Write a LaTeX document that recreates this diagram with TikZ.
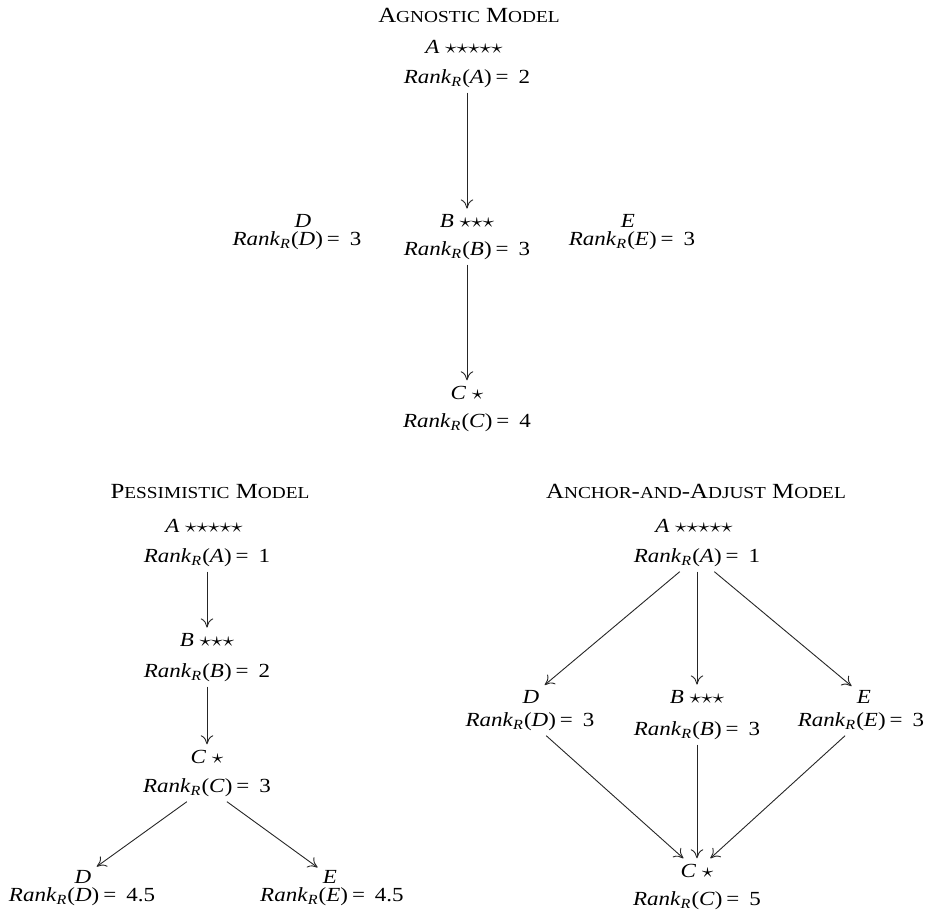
\documentclass[tikz,border=0pt]{standalone}
\usepackage{fontspec}
\setmainfont{Liberation Serif}[FakeStretch=1.15]
\usepackage{tikz}
\usetikzlibrary{arrows.meta}

% small caps faked with a smaller size
\newcommand{\scap}[1]{{\fontsize{8.4pt}{10pt}\selectfont #1}}
\newcommand{\rankr}[2]{\textit{Rank}\textsubscript{\textit{R}}(\textit{#1})\hspace{0.2em}=\hspace{0.5em}#2}
\newcommand{\strs}[1]{\scalebox{1.15}[1]{$#1$}}

\begin{document}
\begin{tikzpicture}[
    x=0.5pt, y=-0.5pt,
    lbl/.style={anchor=base, inner sep=2.5pt, font=\fontsize{10pt}{12pt}\selectfont},
    title/.style={anchor=base, inner sep=2pt, font=\fontsize{10.8pt}{12pt}\selectfont},
    arrow/.style={-{To[length=1.6mm, width=2.2mm]}, line width=0.45pt, draw=black!85}
]
\useasboundingbox (0,0) rectangle (933,917);

% agnostic model
\node[title] (agT) at (469,22) {A\scap{GNOSTIC} M\scap{ODEL}};
\node[lbl] (agA) at (464,53) {\textit{A} \strs{{\star}{\star}{\star}{\star}{\star}}};
\node[lbl] (agAr) at (467,83) {\rankr{A}{2}};
\node[lbl] (agB) at (467,227) {\textit{B} \strs{{\star}{\star}{\star}}};
\node[lbl] (agBr) at (467,255) {\rankr{B}{3}};
\node[lbl] (agD) at (303,227) {\textit{D}};
\node[lbl] (agDr) at (297,245) {\rankr{D}{3}};
\node[lbl] (agE) at (628,227) {\textit{E}};
\node[lbl] (agEr) at (632,245) {\rankr{E}{3}};
\node[lbl] (agC) at (467,399) {\textit{C} \strs{\star}};
\node[lbl] (agCr) at (467,427) {\rankr{C}{4}};

\draw[arrow] (agAr) -- (agB);
\draw[arrow] (agBr) -- (agC);

% pessimistic model
\node[title] (peT) at (210,498) {P\scap{ESSIMISTIC} M\scap{ODEL}};
\node[lbl] (peA) at (204,532) {\textit{A} \strs{{\star}{\star}{\star}{\star}{\star}}};
\node[lbl] (peAr) at (207,562) {\rankr{A}{1}};
\node[lbl] (peB) at (207,646) {\textit{B} \strs{{\star}{\star}{\star}}};
\node[lbl] (peBr) at (207,677) {\rankr{B}{2}};
\node[lbl] (peC) at (207,763) {\textit{C} \strs{\star}};
\node[lbl] (peCr) at (207,792) {\rankr{C}{3}};
\node[lbl] (peD) at (83,883) {\textit{D}};
\node[lbl] (peDr) at (82,901) {\rankr{D}{4.5}};
\node[lbl] (peE) at (330,883) {\textit{E}};
\node[lbl] (peEr) at (332,901) {\rankr{E}{4.5}};

\draw[arrow] (peAr) -- (peB);
\draw[arrow] (peBr) -- (peC);
\draw[arrow] (peCr) -- (peD);
\draw[arrow] (peCr) -- (peE);

% anchor-and-adjust model
\node[title] (anT) at (696,498) {A\scap{NCHOR}-\scap{AND}-A\scap{DJUST} M\scap{ODEL}};
\node[lbl] (anA) at (694,532) {\textit{A} \strs{{\star}{\star}{\star}{\star}{\star}}};
\node[lbl] (anAr) at (697,562) {\rankr{A}{1}};
\node[lbl] (anD) at (531,703) {\textit{D}};
\node[lbl] (anDr) at (530,726) {\rankr{D}{3}};
\node[lbl] (anB) at (697,703) {\textit{B} \strs{{\star}{\star}{\star}}};
\node[lbl] (anBr) at (697,735) {\rankr{B}{3}};
\node[lbl] (anE) at (864,703) {\textit{E}};
\node[lbl] (anEr) at (861,726) {\rankr{E}{3}};
\node[lbl] (anC) at (697,877) {\textit{C} \strs{\star}};
\node[lbl] (anCr) at (697,905) {\rankr{C}{5}};

\draw[arrow] (anAr) -- (anD);
\draw[arrow] (anAr) -- (anB);
\draw[arrow] (anAr) -- (anE);
\draw[arrow] (anDr) -- (anC);
\draw[arrow] (anBr) -- (anC);
\draw[arrow] (anEr) -- (anC);
\end{tikzpicture}
\end{document}
